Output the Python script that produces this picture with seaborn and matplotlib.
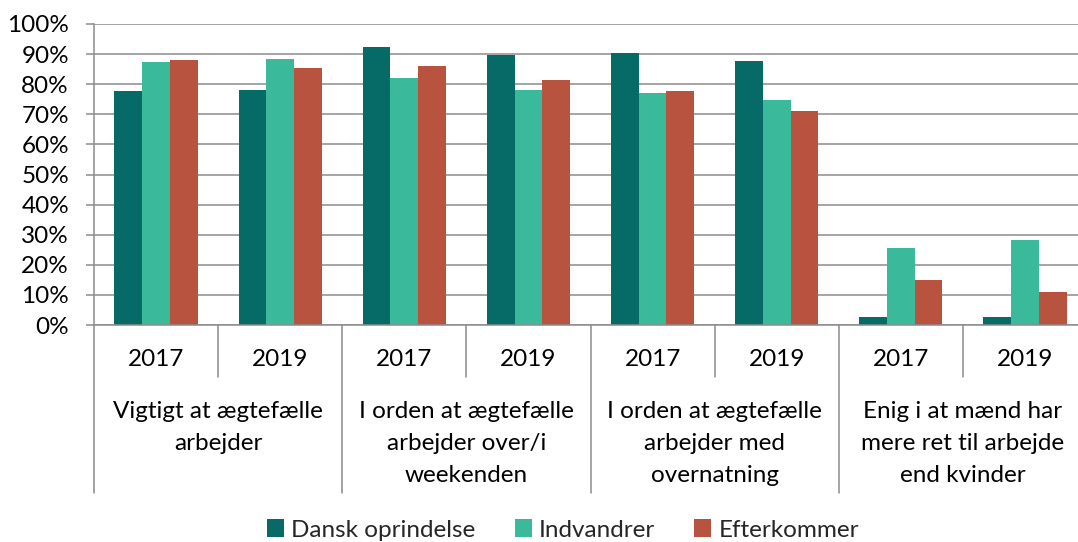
import pandas as pd
import matplotlib.pyplot as plt
import seaborn as sns
from matplotlib.patches import Patch

# Data
spoergsmaal = ['Vigtigt at ægtefælle\narbejder',
               'I orden at ægtefælle\narbejder over/i\nweekenden',
               'I orden at ægtefælle\narbejder med\novernatning',
               'Enig i at mænd har\nmere ret til arbejde\nend kvinder']
aar = ['2017', '2019']
grupper = ['Dansk oprindelse', 'Indvandrer', 'Efterkommer']

dansk = [0.778, 0.781, 0.925, 0.896, 0.903, 0.878, 0.025, 0.028]
indvandrer = [0.875, 0.884, 0.821, 0.781, 0.772, 0.748, 0.256, 0.282]
efterkommer = [0.880, 0.854, 0.860, 0.813, 0.778, 0.711, 0.150, 0.111]

farver = ['#066B66', '#3BBA9B', '#B8533F']

# Lang tabel til seaborn
kategorier = [f'{i}_{a}' for i in range(len(spoergsmaal)) for a in aar]
rows = []
for g, vals in zip(grupper, [dansk, indvandrer, efterkommer]):
    for k, v in zip(kategorier, vals):
        rows.append({'kategori': k, 'gruppe': g, 'andel': v})
df = pd.DataFrame(rows)

sns.set_style('white')
plt.rcParams['font.family'] = ['Lato', 'DejaVu Sans']
tekstfarve = '#000000'
graa = '#8C8C8C'
fs = 17.5

fig = plt.figure(figsize=(10.78, 5.42), dpi=100)
H = 542
ax = fig.add_axes([94 / 1078, 1 - 325 / H, (1087 - 94) / 1078, (325 - 24) / H])

sns.barplot(data=df, x='kategori', y='andel', hue='gruppe', order=kategorier,
            hue_order=grupper, palette=farver, width=0.67, gap=0,
            saturation=1, ax=ax, legend=False, edgecolor='none')

ax.set_ylim(0, 1)
ax.set_xlim(-0.5, len(kategorier) - 0.5)
ax.set_yticks([i / 10 for i in range(11)])
ax.set_yticklabels([f'{i * 10}%' for i in range(11)], fontsize=fs, color=tekstfarve)
ax.tick_params(axis='y', length=6, width=1.1, color=graa, pad=12, left=True)
ax.set_xticks([])
ax.set_xlabel('')
ax.set_ylabel('')
ax.yaxis.grid(True, color=graa, linewidth=1.1)
ax.set_axisbelow(True)
for s in ['top', 'right']:
    ax.spines[s].set_visible(False)
for s in ['left', 'bottom']:
    ax.spines[s].set_color(graa)
    ax.spines[s].set_linewidth(1.1)

# Flerniveau x-akse
px = 1 / (325 - 24)  # en pixel i akse-brøk
tr = ax.get_xaxis_transform()
for i in range(len(kategorier) + 1):
    x = i - 0.5
    bund = -(493 - 325) * px if i % 2 == 0 else -(377 - 325) * px
    ax.plot([x, x], [0, bund], color=graa, lw=1.1, transform=tr, clip_on=False)
for j, k in enumerate(kategorier):
    ax.text(j, -(360 - 325) * px, aar[j % 2], transform=tr, ha='center',
            va='center', fontsize=fs, color=tekstfarve)
for i, s in enumerate(spoergsmaal):
    for n, linje in enumerate(s.split('\n')):
        ax.text(2 * i + 0.5, -(412 + 32 * n - 325) * px, linje, transform=tr,
                ha='center', va='center', fontsize=fs, color=tekstfarve)

handles = [Patch(facecolor=c, edgecolor='none') for c in farver]
fig.legend(handles, grupper, loc='center', bbox_to_anchor=(563 / 1078, 1 - 530 / H),
           ncol=3, frameon=False, fontsize=fs, handlelength=0.7, handleheight=0.7,
           handletextpad=0.3, columnspacing=1.6)

plt.savefig('out.png', dpi=100)
